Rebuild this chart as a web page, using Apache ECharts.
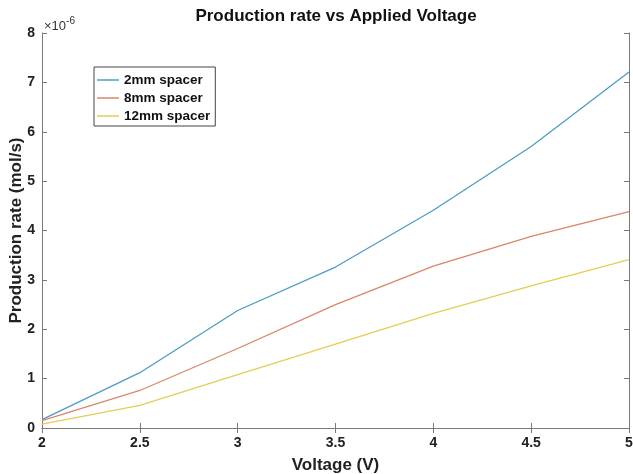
<!DOCTYPE html>
<html>
<head>
<meta charset="utf-8">
<script src="https://cdn.jsdelivr.net/npm/echarts@6/dist/echarts.min.js"></script>
<style>
  html, body { margin: 0; padding: 0; background: #fff; }
  #chart { width: 633px; height: 474px; }
</style>
</head>
<body>
<div id="chart"></div>
<script>
// voltage (V)
const voltages = [2, 2.5, 3, 3.5, 4, 4.5, 5];
// production rate, in units of 1e-6 mol/s
const spacer2mm = [0.17, 1.12, 2.38, 3.26, 4.41, 5.7, 7.21];
const spacer8mm = [0.15, 0.76, 1.61, 2.5, 3.28, 3.88, 4.38];
const spacer12mm = [0.08, 0.46, 1.08, 1.7, 2.32, 2.88, 3.41];
const seriesNames = ['2mm spacer', '8mm spacer', '12mm spacer'];
const colors = ['#4d9cc6', '#d8866a', '#e6cd52'];

const font = 'Liberation Sans, Arial, sans-serif';
const axisColor = '#7a7a7a';

const pairs = vals => voltages.map((v, i) => [v, vals[i]]);

const chart = echarts.init(document.getElementById('chart'), null, { renderer: 'canvas' });

const baseAxis = {
  type: 'value',
  axisLine: { show: true, lineStyle: { color: axisColor, width: 1 } },
  axisTick: { show: true, inside: true, length: 5, lineStyle: { color: axisColor } },
  splitLine: { show: false },
  axisLabel: { color: '#222', fontFamily: font, fontWeight: 'bold', fontSize: 14 }
};

chart.setOption({
  animation: false,
  backgroundColor: '#fff',
  color: colors,
  grid: { left: 42, right: 4, top: 33, bottom: 46, outerBoundsMode: 'none' },
  legend: {
    orient: 'vertical',
    left: 94,
    top: 67,
    icon: 'rect',
    itemWidth: 22,
    itemHeight: 1.5,
    itemGap: 2,
    padding: [5, 5, 2, 3],
    borderColor: '#444',
    borderWidth: 1,
    data: seriesNames,
    textStyle: { fontFamily: font, fontWeight: 'bold', fontSize: 13.5, color: '#111', lineHeight: 16 }
  },
  xAxis: [
    Object.assign({}, baseAxis, {
      min: 2, max: 5, interval: 0.5,
      name: 'Voltage (V)',
      nameLocation: 'middle',
      nameGap: 29,
      nameMoveOverlap: false,
      nameTextStyle: { fontFamily: font, fontWeight: 'bold', fontSize: 17, color: '#222' },
      axisLabel: Object.assign({}, baseAxis.axisLabel, { margin: 8 })
    }),
    Object.assign({}, baseAxis, {
      position: 'top', min: 2, max: 5, interval: 0.5,
      axisLabel: { show: false }
    })
  ],
  yAxis: [
    Object.assign({}, baseAxis, {
      min: 0, max: 8, interval: 1,
      name: 'Production rate (mol/s)',
      nameLocation: 'middle',
      nameGap: 17,
      nameMoveOverlap: false,
      nameTextStyle: { fontFamily: font, fontWeight: 'bold', fontSize: 17, color: '#222' },
      axisLabel: Object.assign({}, baseAxis.axisLabel, { margin: 7 })
    }),
    Object.assign({}, baseAxis, {
      position: 'right', min: 0, max: 8, interval: 1,
      axisLabel: { show: false }
    })
  ],
  graphic: [{
    type: 'text',
    x: 336,
    y: 16,
    style: {
      text: 'Production rate vs Applied Voltage',
      font: 'bold 17px ' + font,
      fill: '#111',
      align: 'center',
      verticalAlign: 'middle'
    }
  }, {
    type: 'text',
    x: 44,
    y: 16,
    style: {
      text: '×10{sup|-6}',
      rich: { sup: { fontSize: 10, fontFamily: font, fill: '#333', padding: [0, 0, 11, 0] } },
      font: '13px ' + font,
      fill: '#333'
    }
  }],
  series: [spacer2mm, spacer8mm, spacer12mm].map((vals, i) => ({
    name: seriesNames[i],
    type: 'line',
    data: pairs(vals),
    symbol: 'none',
    lineStyle: { width: 1.3, color: colors[i] },
    itemStyle: { color: colors[i] }
  }))
});
</script>
</body>
</html>
